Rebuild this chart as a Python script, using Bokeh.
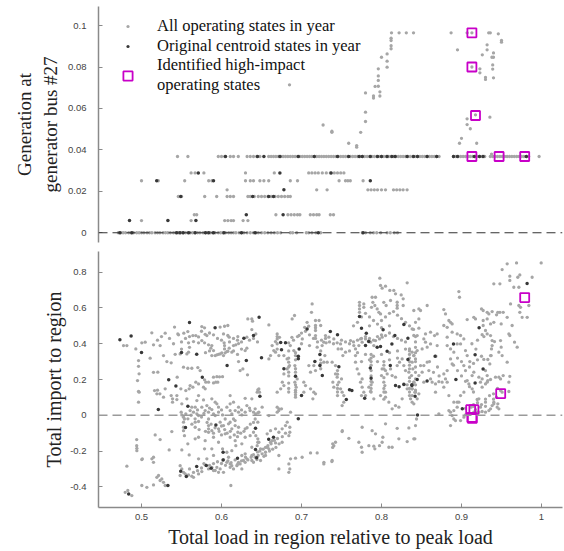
from bokeh.plotting import figure
from bokeh.layouts import column
from bokeh.models import (Span, Legend, LegendItem, FixedTicker, CustomJSTickFormatter)
from bokeh.embed import file_html
from bokeh.resources import INLINE

# ---------------- data: top panel (generation at bus #27) ----------------
top_lvl = [0.0, 0.0059, 0.0087, 0.0175, 0.0207, 0.0251, 0.0289, 0.0368]

top_all_x_0 = [0.471,0.474,0.477,0.480,0.484,0.487,0.490,0.494,0.497,0.500,0.503,0.507,0.510,0.513,
               0.517,0.520,0.523,0.527,0.530,0.533,0.536,0.540,0.543,0.546,0.549,0.552,0.555,0.558,
               0.561,0.564,0.567,0.570,0.573,0.577,0.580,0.583,0.586,0.589,0.592,0.596,0.599,0.602,
               0.605,0.609,0.612,0.615,0.618,0.622,0.625,0.628,0.632,0.636,0.640,0.643,0.646,0.650,
               0.654,0.658,0.662,0.666,0.670,0.674,0.686,0.689,0.694,0.706,0.709,0.713,0.718,0.724,
               0.776,0.780,0.786,0.790,0.794,0.799,0.807,0.811,0.816,0.820]
top_all_x_1 = [0.500,0.562,0.604,0.608,0.612,0.615,0.627,0.633]
top_all_x_2 = [0.566,0.569,0.668,0.683,0.687,0.691,0.695,0.698,0.711,0.715,0.719,0.722,0.736,0.740]
top_all_x_3 = [0.546,0.550,0.579,0.594,0.607,0.611,0.615,0.633,0.636,0.641,0.646,0.650,0.654,0.658,
               0.662,0.667,0.671,0.675,0.679,0.683,0.686]
top_all_x_4 = [0.607,0.719,0.732,0.783,0.787,0.791,0.795,0.800,0.805,0.815,0.819,0.823,0.827,0.832]
top_all_x_5 = [0.500,0.521,0.554,0.584,0.588,0.630,0.636,0.640,0.648,0.653,0.659,0.686,0.695,0.747,
               0.755,0.758,0.761,0.777]
top_all_x_6 = [0.562,0.567,0.578,0.630,0.666,0.709,0.713,0.717,0.721,0.726,0.731,0.736,0.741,0.745,
               0.749,0.753]
top_all_x_7 = [0.545,0.558,0.596,0.600,0.604,0.611,0.615,0.621,0.632,0.636,0.640,0.644,0.648,
               0.659,0.662,0.665,0.668,0.671,0.674,0.677,0.680,0.683,0.686,0.689,0.692,0.695,0.698,
               0.701,0.704,0.707,0.710,0.713,0.716,0.719,0.722,0.725,0.728,0.731,0.734,0.737,0.740,
               0.743,0.746,0.749,0.752,0.755,0.758,0.761,0.764,0.767,0.770,0.773,0.776,0.779,0.782,
               0.785,0.788,0.791,0.794,0.797,0.800,0.803,0.806,0.809,0.812,0.815,0.818,0.821,0.824,
               0.827,0.830,0.833,0.836,0.839,0.842,0.845,0.848,0.851,0.854,0.857,0.860,0.863,0.866,
               0.869,0.872,0.890,0.893,0.896,0.899,0.902,0.905,0.908,0.911,0.914,0.917,0.920,0.923,
               0.926,0.929,0.936,0.939,0.942,0.945,0.948,0.951,0.954,0.957,0.960,0.963,0.966,0.969,
               0.972,0.975,0.978,0.981,0.984,0.997]
top_all_x_rows = [top_all_x_0, top_all_x_1, top_all_x_2, top_all_x_3,
                  top_all_x_4, top_all_x_5, top_all_x_6, top_all_x_7]

# states off the fixed levels (rising parts)
top_all_free_x = [0.738,0.738,0.759,0.769,0.769,0.774,0.780,0.780,0.780,0.790,0.790,0.792,0.798,0.798,
                  0.796,0.796,0.796,0.796,0.800,0.807,0.807,0.807,0.812,0.812,0.812,0.812,0.8125,0.822,
                  0.831,0.840,0.727,0.685,
                  0.887,0.907,0.913,0.934,0.936,0.946,0.950,0.950,0.895,0.932,0.932,0.926,0.940,0.940,
                  0.938,0.939,0.939,0.913,0.923,0.923,0.930,0.930,0.940,0.9175,0.9355,0.907,0.907,
                  0.911,0.900,0.8975,0.919,0.9375]
top_all_free_y = [0.0485,0.049,0.0432,0.0421,0.0413,0.0485,0.0537,0.0582,0.0675,0.066,0.065,0.0706,
                  0.068,0.066,0.0735,0.0707,0.0791,0.0757,0.0847,0.0828,0.0799,0.0863,0.0903,0.0888,
                  0.0939,0.0928,0.0965,0.0965,0.0965,0.0965,0.052,0.0714,
                  0.0965,0.0965,0.0965,0.0965,0.0965,0.096,0.0928,0.092,0.0883,0.0907,0.0883,0.0859,
                  0.0868,0.0847,0.0847,0.081,0.079,0.080,0.0791,0.0772,0.075,0.074,0.0748,0.0569,
                  0.0558,0.055,0.0522,0.0502,0.0456,0.0432,0.0432,0.038]

top_cen_x_0 = [0.473,0.488,0.544,0.548,0.552,0.559,0.567,0.580,0.584,0.590,0.603,0.625,0.642,0.721,0.777]
top_cen_x_1 = [0.485,0.533,0.568]
top_cen_x_2 = [0.631,0.677]
top_cen_x_3 = [0.549,0.639,0.659,0.665]
top_cen_x_4 = [0.678]
top_cen_x_5 = [0.519,0.590,0.786]
top_cen_x_6 = [0.571,0.673,0.737]
top_cen_x_7 = [0.605,0.645,0.653,0.673,0.696,0.716,0.745,0.759,0.772,0.776,0.786,0.795,0.800,0.807,
               0.813,0.817,0.832,0.840,0.845,0.857,0.869,0.890,0.895,0.916,0.9225,0.927,0.981]
top_cen_x_rows = [top_cen_x_0, top_cen_x_1, top_cen_x_2, top_cen_x_3,
                  top_cen_x_4, top_cen_x_5, top_cen_x_6, top_cen_x_7]

top_hi_x = [0.913, 0.913, 0.9175, 0.913, 0.947, 0.979]
top_hi_y = [0.0965, 0.080, 0.0566, 0.0368, 0.0368, 0.0368]

# ---------------- data: bottom panel (total import to region) ----------------
bot_all_left = [
 (0.6329,0.539),(0.6379,0.539),(0.6388,0.526),(0.6379,0.479),(0.5413,0.493),(0.5754,0.496),(0.5788,0.489),
 (0.5983,0.493),(0.6038,0.498),(0.6079,0.502),(0.5129,0.461),(0.5296,0.459),(0.5454,0.455),(0.5463,0.45),
 (0.5529,0.459),(0.5579,0.468),(0.5642,0.446),(0.5679,0.446),(0.5713,0.438),(0.5796,0.453),(0.5817,0.446),
 (0.6025,0.455),(0.6079,0.446),(0.6096,0.437),(0.6204,0.44),(0.6317,0.437),(0.6429,0.455),(0.4775,0.39),
 (0.4817,0.39),(0.4929,0.371),(0.5004,0.405),(0.5046,0.409),(0.515,0.394),(0.5233,0.39),(0.5588,0.405),
 (0.565,0.412),(0.5713,0.405),(0.5754,0.418),(0.5788,0.405),(0.5838,0.394),(0.5879,0.39),(0.5867,0.375),
 (0.59,0.362),(0.6033,0.405),(0.6038,0.39),(0.6067,0.356),(0.6096,0.375),(0.6129,0.353),(0.615,0.39),
 (0.6179,0.394),(0.6213,0.401),(0.6296,0.362),(0.6317,0.375),(0.4963,0.306),(0.5108,0.319),(0.5275,0.334),
 (0.5317,0.3),(0.5371,0.293),(0.5421,0.341),(0.5483,0.343),(0.5567,0.343),(0.5588,0.353),(0.5879,0.334),
 (0.5921,0.334),(0.5942,0.338),(0.5963,0.341),(0.5983,0.343),(0.6004,0.349),(0.6046,0.349),(0.6079,0.358),
 (0.6025,0.334),(0.6038,0.371),(0.4963,0.274),(0.5525,0.269),(0.5579,0.263),(0.5629,0.263),(0.5704,0.267),
 (0.5733,0.25),(0.6233,0.25),(0.6267,0.259),(0.6325,0.226),(0.6213,0.3),(0.5204,0.241),(0.5446,0.213),
 (0.5788,0.198),(0.5804,0.185),(0.5838,0.185),(0.59,0.213),(0.5942,0.216),(0.5975,0.215),(0.6013,0.216),
 (0.59,0.181),(0.5929,0.185),(0.5954,0.185),(0.5713,0.175),(0.5679,0.185),(0.5596,0.148),(0.5554,0.138),
 (0.5608,0.166),(0.5775,0.157),(0.5796,0.148),(0.5642,0.157),(0.4963,0.134),(0.4963,0.073),(0.5163,0.138),
 (0.5192,0.12),(0.5275,0.101),(0.5296,0.148),(0.5371,0.11),(0.5388,0.092),(0.5388,0.073),(0.5442,0.11),
 (0.5442,0.088),(0.5492,0.148),(0.5567,0.092),(0.5629,0.045),(0.5692,0.082),(0.5775,0.086),(0.5921,0.073),
 (0.5942,0.064),(0.6108,0.064),(0.615,0.073),(0.6296,0.095),(0.6379,0.092),(0.6454,0.142),(0.6108,0.11),
 (0.5879,0.092),(0.5713,0.11),(0.5504,0.064),(0.497,0.232),(0.495,0.194),(0.497,0.129),(0.515,0.24),
 (0.52,0.14),(0.523,0.12),
 (0.5496,0.017),(0.5504,0.002),(0.5525,-0.011),(0.5537,-0.021),(0.5554,0.008),(0.5608,0.026),(0.565,0.017),
 (0.5692,0.008),(0.5713,-0.002),(0.5796,0.026),(0.5838,0.017),(0.5879,0.032),(0.59,0.008),(0.5921,-0.002),
 (0.5963,0.017),(0.6013,0.002),(0.6108,0.026),(0.6129,0.008),(0.6171,0.026),(0.6213,0.017),(0.6254,0.002),
 (0.6296,0.017),(0.6358,0.026),(0.64,0.017),(0.6454,0.013),(0.6421,0.036),(0.5671,0.045),(0.5754,0.045),
 (0.5817,0.054),(0.5963,0.045),(0.6067,0.045),(0.6213,0.045),(0.6317,0.054),(0.615,-0.021),(0.6046,-0.021),
 (0.5983,-0.039),(0.5838,-0.021),(0.5713,-0.035),(0.5671,-0.039),(0.6108,-0.039),
 (0.5525,-0.039),(0.5525,-0.067),(0.5525,-0.086),(0.5537,-0.114),(0.5671,-0.067),(0.5838,-0.058),
 (0.5838,-0.076),(0.5838,-0.095),(0.5879,-0.086),(0.5963,-0.076),(0.6025,-0.058),(0.6088,-0.048),
 (0.6129,-0.076),(0.6171,-0.058),(0.6204,-0.095),(0.6213,-0.067),(0.6296,-0.076),(0.6421,-0.021),
 (0.6454,-0.039),(0.64,-0.095),(0.6429,-0.114),(0.6454,-0.132),(0.5171,-0.11),(0.5233,-0.136),
 (0.5379,-0.091),(0.5504,-0.194),(0.5671,-0.132),(0.5713,-0.123),(0.5788,-0.188),(0.5879,-0.188),
 (0.5963,-0.151),(0.6013,-0.188),(0.6067,-0.207),(0.6129,-0.198),(0.6171,-0.142),(0.6179,-0.17),
 (0.6254,-0.16),(0.6379,-0.179),(0.6454,-0.151),(0.6358,-0.114),(0.6296,-0.123),(0.6108,-0.123),
 (0.6046,-0.104),(0.59,-0.123),(0.5796,-0.142),(0.4942,-0.185),(0.4942,-0.198),(0.5004,-0.248),
 (0.515,-0.235),(0.515,-0.263),(0.5346,-0.194),(0.5579,-0.16),(0.5596,-0.222),(0.5713,-0.244),
 (0.5817,-0.244),(0.59,-0.225),(0.6025,-0.248),(0.6088,-0.235),(0.6129,-0.282),(0.6213,-0.263),
 (0.6275,-0.253),(0.6317,-0.244),(0.6379,-0.225),(0.6421,-0.235),(0.6296,-0.216),(0.6254,-0.225),
 (0.4817,-0.285),(0.5483,-0.282),(0.5525,-0.319),(0.5546,-0.328),(0.5567,-0.337),(0.5588,-0.334),
 (0.5629,-0.341),(0.565,-0.347),(0.5796,-0.278),(0.5838,-0.3),(0.59,-0.309),(0.5942,-0.291),(0.5983,-0.3),
 (0.6025,-0.319),(0.6067,-0.263),(0.6108,-0.291),(0.615,-0.3),(0.6192,-0.282),(0.6233,-0.272),
 (0.6254,-0.3),(0.6296,-0.263),(0.6379,-0.253),(0.64,-0.263),(0.6442,-0.248),(0.5504,-0.3),(0.5483,-0.337),
 (0.5713,-0.328),(0.5754,-0.315),(0.5879,-0.291),(0.5921,-0.309),(0.5963,-0.319),(0.6108,-0.272),
 (0.5192,-0.347),(0.5233,-0.365),(0.5275,-0.375),(0.5296,-0.393),(0.5004,-0.393),(0.5067,-0.403),
 (0.515,-0.39),(0.4829,-0.421),(0.4796,-0.431),(0.4879,-0.449),(0.6117,-0.393),(0.5213,-0.337),
 (0.5254,-0.356),(0.494,-0.136),(0.494,-0.17),(0.501,-0.244),(0.513,-0.244),
]
bot_all_mid = [
 (0.7979,0.767),(0.7988,0.726),(0.8008,0.711),(0.805,0.722),(0.8321,0.741),(0.8104,0.698),(0.8154,0.698),
 (0.8175,0.679),(0.8246,0.673),(0.8196,0.632),(0.8196,0.614),(0.8196,0.599),(0.8271,0.651),(0.8271,0.614),
 (0.7883,0.66),(0.7925,0.66),(0.7892,0.632),(0.7917,0.614),(0.7875,0.604),(0.7946,0.595),(0.7967,0.576),
 (0.7988,0.567),(0.8029,0.632),(0.8058,0.614),(0.8113,0.642),(0.7725,0.632),(0.7725,0.614),(0.7779,0.623),
 (0.7779,0.604),(0.7725,0.595),(0.7725,0.576),(0.7133,0.623),(0.7125,0.576),(0.6913,0.558),(0.6883,0.539),
 (0.6592,0.505),(0.707,0.52),(0.709,0.498),(0.704,0.492),(0.7175,0.502),(0.7175,0.474),(0.7175,0.446),
 (0.722,0.53),(0.724,0.502),(0.697,0.446),(0.701,0.427),(0.688,0.436),(0.684,0.405),(0.686,0.39),
 (0.6696,0.455),(0.6696,0.427),(0.6675,0.412),(0.6725,0.436),(0.6633,0.39),(0.6654,0.362),(0.6613,0.334),
 (0.6592,0.315),(0.6675,0.353),(0.6717,0.334),(0.678,0.334),(0.682,0.315),(0.684,0.297),(0.685,0.278),
 (0.682,0.259),(0.684,0.241),(0.678,0.231),(0.676,0.185),(0.678,0.166),(0.674,0.148),(0.6696,0.129),
 (0.6717,0.036),(0.675,0.036),(0.6696,0.017),(0.6592,-0.002),(0.6446,0.129),(0.6467,0.147),(0.6475,0.129),
 (0.6904,0.362),(0.6925,0.334),(0.6917,0.278),(0.6925,0.241),(0.6946,0.203),(0.6917,0.185),(0.6933,0.157),
 (0.6925,0.129),(0.6925,0.101),(0.7029,0.185),(0.705,0.166),(0.7029,0.129),(0.7113,0.148),(0.7154,0.129),
 (0.7175,0.12),(0.7142,0.092),(0.7092,0.278),(0.7113,0.241),(0.7154,0.278),(0.7175,0.25),(0.7196,0.381),
 (0.7258,0.39),(0.7279,0.409),(0.7292,0.334),(0.7279,0.297),(0.7321,0.297),(0.7383,0.297),(0.7425,0.278),
 (0.7425,0.231),(0.7446,0.213),(0.7392,0.185),(0.7404,0.157),(0.7467,0.185),(0.75,0.203),(0.7488,0.148),
 (0.7508,0.129),(0.7529,0.11),(0.7529,0.073),(0.7508,0.054),(0.73,0.446),(0.7308,0.405),(0.7342,0.437),
 (0.7404,0.427),(0.7446,0.405),(0.7488,0.399),(0.7458,0.371),(0.75,0.371),(0.7517,0.334),(0.755,0.353),
 (0.7613,0.418),(0.7654,0.39),(0.7675,0.371),(0.7675,0.334),(0.7717,0.39),(0.7758,0.409),(0.7738,0.427),
 (0.78,0.427),(0.7842,0.418),(0.7863,0.409),(0.7904,0.39),(0.7925,0.418),(0.7975,0.427),(0.8008,0.437),
 (0.805,0.446),(0.7675,0.297),(0.7696,0.259),(0.7717,0.231),(0.7758,0.203),(0.7738,0.185),(0.7758,0.157),
 (0.7779,0.129),(0.775,0.11),(0.78,0.11),(0.7842,0.157),(0.7883,0.185),(0.7863,0.133),(0.7904,0.092),
 (0.8008,0.259),(0.805,0.25),(0.8071,0.231),(0.8,0.222),(0.8029,0.185),(0.8042,0.166),(0.805,0.129),
 (0.7988,0.11),(0.805,0.101),(0.8092,0.073),(0.8133,0.036),(0.8196,0.278),(0.8225,0.297),(0.8258,0.315),
 (0.8279,0.278),(0.83,0.25),(0.8342,0.241),(0.835,0.371),(0.8383,0.353),(0.8404,0.334),(0.8383,0.297),
 (0.8392,0.259),(0.8375,0.222),(0.8404,0.185),(0.8383,0.148),(0.8417,0.129),(0.8363,0.092),(0.8383,0.073),
 (0.8321,0.148),(0.8258,0.092),(0.8175,0.054),(0.8217,0.045),(0.8113,0.259),(0.8133,0.222),(0.8175,0.213),
 (0.8279,0.175),(0.8321,0.17),
 (0.7758,-0.067),(0.7508,-0.091),(0.7592,-0.129),(0.7717,-0.151),(0.775,-0.179),(0.7758,-0.207),
 (0.7842,-0.17),(0.7904,-0.173),(0.7917,-0.188),(0.7975,-0.17),(0.8008,-0.151),(0.8017,-0.123),
 (0.8092,-0.179),(0.8133,-0.179),(0.8217,-0.132),(0.8321,-0.147),(0.8417,-0.132),(0.8342,-0.071),
 (0.8196,-0.073),(0.805,-0.048),(0.7883,-0.086),(0.7925,-0.104),(0.7404,-0.17),(0.7425,-0.151),
 (0.7279,-0.272),(0.7383,-0.253),(0.7196,-0.211),(0.7113,-0.211),(0.7008,-0.235),(0.6925,-0.24),
 (0.6863,-0.244),(0.6842,-0.272),(0.6854,-0.3),(0.6842,-0.319),(0.6717,-0.3),(0.6717,-0.225),
 (0.6675,-0.155),(0.6592,-0.188),(0.655,-0.207),(0.6508,-0.216),(0.6488,-0.188),(0.6467,-0.151),
 (0.6446,-0.17),(0.6458,-0.225),(0.6488,-0.253),(0.655,-0.225),(0.6571,-0.179),(0.6613,-0.151),
 (0.6633,-0.142),(0.6571,-0.104),(0.6613,-0.086),(0.6675,-0.076),(0.6717,-0.095),(0.6758,-0.076),
 (0.68,-0.058),(0.6842,-0.114),(0.6854,-0.095),(0.6854,-0.067),(0.6821,-0.039),(0.6758,-0.151),
 (0.6717,0.026),(0.6863,0.017),(0.6696,0.045),(0.6508,0.045),(0.6467,0.017),(0.6425,0.008),
 (0.739,-0.16),(0.739,-0.18),(0.751,-0.086),(0.728,-0.263),(0.738,-0.259),
]
bot_all_right = [
 (0.9571,0.847),(0.9688,0.852),(0.9996,0.852),(0.9508,0.815),(0.9604,0.778),(0.9604,0.754),(0.9704,0.772),
 (0.9729,0.785),(0.9883,0.772),(0.948,0.735),(0.9404,0.735),(0.9654,0.716),(0.9717,0.716),(0.9842,0.614),
 (0.9738,0.604),(0.9717,0.614),(0.9729,0.576),(0.9613,0.623),(0.9758,0.548),(0.9821,0.548),(0.8967,0.692),
 (0.8975,0.66),(0.8571,0.614),(0.8467,0.595),(0.8404,0.586),(0.8779,0.591),(0.88,0.567),(0.8842,0.53),
 (0.8863,0.52),(0.8883,0.511),(0.9071,0.535),(0.9154,0.548),(0.9175,0.539),(0.925,0.595),(0.9271,0.586),
 (0.9321,0.576),(0.9342,0.567),(0.9383,0.58),(0.9438,0.562),(0.9454,0.576),(0.948,0.576),(0.9521,0.576),
 (0.9496,0.511),(0.9571,0.548),(0.9633,0.502),(0.9404,0.52),(0.9363,0.511),(0.9321,0.539),(0.9271,0.53),
 (0.9271,0.502),(0.93,0.474),(0.9321,0.455),(0.9258,0.451),(0.9363,0.446),(0.9383,0.418),(0.9383,0.39),
 (0.9375,0.371),(0.9371,0.334),(0.9354,0.287),(0.9413,0.412),(0.9488,0.418),(0.9496,0.381),(0.9467,0.353),
 (0.9508,0.334),(0.9592,0.455),(0.9604,0.446),(0.9663,0.409),(0.9696,0.381),(0.9571,0.297),(0.9363,0.334),
 (0.9329,0.312),(0.9279,0.312),(0.93,0.25),(0.9321,0.222),(0.9329,0.194),(0.9258,0.203),(0.9217,0.213),
 (0.9154,0.241),(0.9133,0.222),(0.9092,0.175),(0.9071,0.194),(0.9029,0.278),(0.9104,0.3),(0.9071,0.334),
 (0.905,0.362),(0.8988,0.399),(0.9029,0.427),(0.8946,0.399),(0.8988,0.446),(0.8946,0.455),(0.8883,0.465),
 (0.8821,0.492),(0.8779,0.502),(0.8821,0.437),(0.8821,0.39),(0.8863,0.371),(0.8904,0.353),(0.8863,0.315),
 (0.8883,0.287),(0.8821,0.25),(0.8779,0.231),(0.88,0.203),(0.8758,0.185),(0.8717,0.188),(0.8675,0.175),
 (0.8633,0.185),(0.8613,0.203),(0.8592,0.25),(0.8529,0.278),(0.8488,0.278),(0.8425,0.315),(0.8404,0.334),
 (0.8446,0.362),(0.8508,0.371),(0.8571,0.381),(0.8613,0.399),(0.855,0.409),(0.8529,0.427),(0.8446,0.446),
 (0.8404,0.446),(0.8467,0.487),(0.8383,0.483),(0.8425,0.52),(0.8467,0.539),(0.8488,0.586),(0.855,0.455),
 (0.8613,0.465),(0.8696,0.455),(0.8696,0.39),(0.8663,0.446),(0.8571,0.297),(0.8508,0.241),(0.8467,0.222),
 (0.8425,0.203),(0.8404,0.185),(0.8383,0.148),(0.8425,0.129),(0.8467,0.12),(0.8383,0.11),(0.8446,0.092),
 (0.8404,0.064),(0.8529,0.185),(0.8675,0.129),(0.8779,0.157),(0.8821,0.185),(0.8842,0.11),(0.8904,0.073),
 (0.8946,0.073),(0.8988,0.11),(0.903,0.129),(0.9133,0.148),(0.9237,0.185),(0.9258,0.157),(0.93,0.175),
 (0.9321,0.185),(0.9363,0.2),(0.9425,0.213),(0.9467,0.213),(0.9488,0.203),(0.9521,0.222),(0.9604,0.218),
 (0.9592,0.185),(0.9592,0.133),(0.9383,0.054),(0.9363,0.036),(0.9342,0.026),(0.93,0.017),(0.9258,0.021),
 (0.9217,0.017),(0.9175,0.032),(0.9238,0.045),(0.93,0.073),(0.9196,0.088),(0.9217,0.092),(0.8967,0.073),
 (0.8946,0.045),(0.8904,0.026),(0.8863,0.017),(0.8883,-0.002),(0.8904,-0.021),(0.8925,-0.03),(0.8988,-0.03),
 (0.903,-0.011),(0.905,0.002),(0.9092,0.008),(0.9154,0.017),(0.9404,0.073),(0.9446,0.045),(0.9467,0.036),
 (0.9438,0.101),(0.9508,0.129),(0.9488,0.138),(0.9404,0.064),(0.9454,0.064),(0.8842,0.026),(0.8717,0.008),
 (0.8438,-0.021),(0.8425,-0.058),(0.8404,-0.132),(0.8863,-0.058),(0.905,0.039),(0.9154,0.05),(0.9196,0.017),
 (0.93,0.05),
]
# further states in the densest parts of the cloud
bot_all_dense = [
 (0.6696,0.44),(0.6696,0.40),(0.6696,0.37),(0.684,0.36),(0.684,0.32),(0.684,0.27),(0.684,0.22),(0.684,0.18),
 (0.684,0.15),(0.684,0.13),(0.6925,0.35),(0.6925,0.31),(0.6925,0.26),(0.6925,0.22),(0.6925,0.17),
 (0.6925,0.14),(0.6925,0.115),(0.7175,0.53),(0.7175,0.49),(0.7175,0.43),(0.724,0.36),(0.724,0.31),
 (0.724,0.29),(0.724,0.26),(0.745,0.25),(0.745,0.23),(0.745,0.17),(0.745,0.15),(0.745,0.13),(0.745,0.11),
 (0.787,0.34),(0.787,0.32),(0.787,0.30),(0.787,0.28),(0.787,0.25),(0.787,0.22),(0.787,0.19),(0.787,0.17),
 (0.787,0.15),(0.787,0.13),(0.803,0.30),(0.803,0.28),(0.803,0.26),(0.803,0.21),(0.803,0.15),(0.803,0.13),
 (0.803,0.09),(0.835,0.36),(0.835,0.34),(0.835,0.32),(0.835,0.30),(0.835,0.28),(0.835,0.26),(0.835,0.21),
 (0.835,0.19),(0.835,0.15),(0.835,0.13),(0.835,0.11),(0.8425,0.44),(0.8425,0.41),(0.8425,0.38),
 (0.8425,0.35),(0.8425,0.30),(0.8425,0.27),(0.8425,0.24),(0.8425,0.17),(0.8425,0.14),
 (0.87,0.27),(0.865,0.24),(0.872,0.22),(0.86,0.30),(0.868,0.33),(0.905,0.25),(0.91,0.27),(0.915,0.29),
 (0.92,0.31),(0.925,0.33),(0.918,0.37),(0.913,0.40),(0.92,0.42),(0.928,0.44),(0.90,0.30),(0.895,0.32),
 (0.89,0.28),(0.895,0.25),(0.90,0.22),(0.905,0.19),(0.91,0.16),(0.915,0.13),(0.925,0.06),(0.93,0.09),
 (0.935,0.11),(0.94,0.12),(0.945,0.15),(0.92,0.07),(0.915,0.06),(0.912,0.045),(0.94,0.09),
 (0.56,-0.30),(0.565,-0.32),(0.57,-0.31),(0.575,-0.295),(0.578,-0.27),(0.585,-0.28),(0.59,-0.27),
 (0.595,-0.26),(0.60,-0.27),(0.605,-0.28),(0.608,-0.255),(0.612,-0.265),(0.617,-0.25),(0.62,-0.275),
 (0.625,-0.255),(0.63,-0.235),(0.633,-0.25),(0.637,-0.235),(0.64,-0.22),(0.645,-0.205),(0.648,-0.20),
 (0.652,-0.19),(0.655,-0.18),(0.658,-0.17),(0.662,-0.16),(0.666,-0.14),(0.67,-0.13),(0.653,-0.23),
 (0.66,-0.20),(0.664,-0.19),(0.668,-0.18),(0.672,-0.16),(0.676,-0.12),(0.68,-0.10),
 (0.558,-0.02),(0.562,0.0),(0.567,-0.02),(0.575,-0.01),(0.578,0.01),(0.582,-0.04),(0.587,-0.05),
 (0.592,-0.07),(0.597,-0.09),(0.60,-0.06),(0.604,-0.08),(0.607,-0.10),(0.611,-0.09),(0.616,-0.11),
 (0.62,-0.12),(0.624,-0.10),(0.628,-0.09),(0.632,-0.07),(0.636,-0.05),(0.64,-0.04),(0.57,0.03),
 (0.585,0.04),(0.60,0.03),(0.625,0.03),(0.635,0.04),(0.617,-0.03),(0.60,-0.11),(0.59,-0.10),(0.58,-0.09),
 (0.572,-0.08),(0.563,-0.05),
 (0.52,0.42),(0.525,0.44),(0.535,0.43),(0.54,0.40),(0.55,0.41),(0.555,0.43),(0.56,0.44),(0.575,0.47),
 (0.585,0.46),(0.59,0.45),(0.595,0.43),(0.60,0.42),(0.61,0.41),(0.615,0.43),(0.62,0.42),(0.625,0.41),
 (0.635,0.42),(0.64,0.43),(0.645,0.41),(0.625,0.37),(0.615,0.36),(0.62,0.34),(0.585,0.36),(0.58,0.35),
 (0.56,0.38),(0.55,0.37),
 (0.75,0.42),(0.755,0.41),(0.76,0.40),(0.765,0.41),(0.77,0.42),(0.775,0.43),(0.78,0.44),(0.785,0.43),
 (0.79,0.42),(0.795,0.44),(0.80,0.45),(0.81,0.46),(0.815,0.44),(0.82,0.43),(0.825,0.42),(0.83,0.41),
 (0.76,0.36),(0.77,0.35),(0.78,0.34),(0.79,0.33),(0.80,0.34),(0.81,0.35),(0.82,0.36),(0.83,0.37),
 (0.775,0.30),(0.785,0.31),(0.795,0.30),(0.81,0.31),(0.82,0.32),
 (0.765,0.50),(0.77,0.52),(0.775,0.55),(0.78,0.57),(0.785,0.55),(0.79,0.53),(0.795,0.51),(0.80,0.53),
 (0.805,0.55),(0.81,0.57),(0.815,0.58),(0.82,0.56),(0.825,0.54),(0.83,0.52),(0.835,0.50),(0.84,0.48),
 (0.785,0.50),(0.80,0.49),(0.81,0.50),
 (0.69,0.42),(0.695,0.44),(0.70,0.46),(0.705,0.47),(0.71,0.45),(0.715,0.43),(0.72,0.41),(0.725,0.42),
 (0.73,0.43),(0.735,0.41),(0.74,0.40),(0.70,0.40),(0.71,0.39),
]
bot_cen = [
 (0.473,0.422),(0.487,0.444),(0.5,0.351),(0.534,0.198),(0.543,0.164),(0.55,0.351),(0.56,0.519),(0.569,0.341),
 (0.576,0.213),(0.592,0.489),(0.607,0.278),(0.628,0.431),(0.64,0.446),(0.647,0.548),(0.631,0.306),(0.65,0.321),
 (0.648,0.106),(0.521,0.032),(0.558,0.05),(0.555,-0.069),(0.593,-0.054),(0.6425,-0.073),(0.602,-0.207),
 (0.602,-0.25),(0.62,-0.24),(0.6425,-0.192),(0.644,-0.238),(0.659,-0.134),(0.665,-0.123),(0.581,-0.281),
 (0.587,-0.296),(0.569,-0.287),(0.556,-0.343),(0.549,-0.313),(0.533,-0.393),(0.484,-0.44),(0.674,0.407),
 (0.675,0.366),(0.68,0.405),(0.678,0.26),(0.697,0.371),(0.696,0.33),(0.696,0.316),(0.6925,0.218),(0.70,0.11),
 (0.707,0.483),(0.7167,0.3),(0.723,0.34),(0.723,0.278),(0.726,0.222),(0.736,0.468),(0.745,0.451),(0.7467,0.272),
 (0.76,0.142),(0.763,0.138),(0.756,0.088),(0.7725,0.552),(0.775,0.487),(0.781,0.459),(0.78,0.39),(0.784,0.412),
 (0.786,0.265),(0.787,0.207),(0.779,0.095),(0.7946,0.381),(0.7988,0.384),(0.802,0.478),(0.807,0.358),
 (0.811,0.278),(0.813,0.399),(0.8167,0.446),(0.828,0.507),(0.833,0.431),(0.833,0.312),(0.822,0.16),
 (0.8175,0.166),(0.828,0.172),(0.838,0.17),(0.842,0.106),(0.696,-0.02),(0.982,0.737),(0.922,0.489),
 (0.89,0.399),(0.867,0.33),(0.917,0.339),(0.927,0.259),(0.893,0.2),(0.857,0.192),(0.8446,0.2),(0.917,0.181),
 (0.838,0.166),(0.901,0.036),(0.845,0.002),
]
bot_hi_x = [0.9115, 0.9155, 0.913, 0.9135, 0.949, 0.979]
bot_hi_y = [0.031, 0.031, -0.012, -0.017, 0.121, 0.658]

# tick values
x_ticks = [0.5, 0.6, 0.7, 0.8, 0.9, 1.0]
top_y_ticks = [0, 0.02, 0.04, 0.06, 0.08, 0.1]
bot_y_ticks = [-0.4, -0.2, 0, 0.2, 0.4, 0.6, 0.8]

# ---------------- build columns ----------------
tax, tay = [], []
for lv, xs in zip(top_lvl, top_all_x_rows):
    tax += xs
    tay += [lv] * len(xs)
tax += top_all_free_x
tay += top_all_free_y
tcx, tcy = [], []
for lv, xs in zip(top_lvl, top_cen_x_rows):
    tcx += xs
    tcy += [lv] * len(xs)

ball = bot_all_left + bot_all_mid + bot_all_right + bot_all_dense
bax = [p[0] for p in ball]
bay = [p[1] for p in ball]
bcx = [p[0] for p in bot_cen]
bcy = [p[1] for p in bot_cen]

GRAY = "#a6a6a6"
DARK = "#383838"
MAG = "#c800c8"
SERIF = "Liberation Serif"
SANS = "Liberation Sans"

fmt = CustomJSTickFormatter(code="return String(parseFloat(tick.toFixed(4)));")


def style_axis(ax, label_size="19px"):
    ax.axis_line_color = "#8a8a8a"
    ax.axis_line_width = 1.5
    ax.major_tick_line_color = "#8a8a8a"
    ax.major_tick_in = 4
    ax.major_tick_out = 0
    ax.minor_tick_line_color = None
    ax.major_label_text_font = SANS
    ax.major_label_text_font_size = "9.5px"
    ax.major_label_text_color = "#444444"
    ax.axis_label_text_font = SERIF
    ax.axis_label_text_font_style = "normal"
    ax.axis_label_text_font_size = label_size
    ax.axis_label_text_color = "#222222"
    ax.formatter = fmt


# ---------------- top figure ----------------
p1 = figure(width=564, height=246, output_backend="svg", toolbar_location=None,
            x_range=(0.44625, 1.02625), y_range=(-0.0047, 0.1092),
            min_border_left=98, min_border_right=2, min_border_top=6, min_border_bottom=4)
p1.outline_line_color = None
p1.grid.visible = False
p1.xaxis.visible = False
style_axis(p1.yaxis[0])
p1.yaxis.ticker = FixedTicker(ticks=top_y_ticks)
p1.yaxis.major_label_standoff = 12
p1.yaxis.axis_label = "Generation at\ngenerator bus #27"
p1.yaxis.axis_label_text_line_height = 1.25
p1.yaxis.axis_label_standoff = 4

p1.add_layout(Span(location=0, dimension="width", line_color="#333333",
                   line_width=1.2, line_dash="9 5"))
r_all = p1.scatter(tax, tay, size=3.3, color=GRAY, line_color=None)
r_cen = p1.scatter(tcx, tcy, size=3.5, color=DARK, line_color=None)
r_hi = p1.scatter(top_hi_x, top_hi_y, marker="square", size=9, fill_color=None,
                  line_color=MAG, line_width=1.8)


def style_legend(lg):
    lg.border_line_alpha = 0
    lg.background_fill_alpha = 0
    lg.margin = 0
    lg.padding = 10
    lg.spacing = 0
    lg.glyph_width = 39
    lg.label_standoff = 10
    lg.label_height = 20
    lg.label_text_font = SERIF
    lg.label_text_font_size = "16.5px"
    lg.label_text_line_height = 1.1
    lg.label_text_color = "#111111"


legend_a = Legend(items=[
    LegendItem(label="All operating states in year", renderers=[r_all]),
    LegendItem(label="Original centroid states in year", renderers=[r_cen]),
], location="top_left")
style_legend(legend_a)
legend_a.glyph_height = 8
p1.add_layout(legend_a)

legend_b = Legend(items=[
    LegendItem(label="Identified high-impact\noperating states", renderers=[r_hi]),
], location=(0, 137))
style_legend(legend_b)
legend_b.glyph_height = 23
p1.add_layout(legend_b)

# ---------------- bottom figure ----------------
p2 = figure(width=564, height=305, output_backend="svg", toolbar_location=None,
            x_range=(0.44625, 1.02625), y_range=(-0.516, 0.916),
            min_border_left=98, min_border_right=2, min_border_top=5, min_border_bottom=44)
p2.outline_line_color = None
p2.grid.visible = False
style_axis(p2.yaxis[0], "20px")
style_axis(p2.xaxis[0], "20px")
p2.yaxis.ticker = FixedTicker(ticks=bot_y_ticks)
p2.xaxis.ticker = FixedTicker(ticks=x_ticks)
p2.yaxis.major_label_standoff = 12
p2.xaxis.major_label_standoff = 6
p2.yaxis.axis_label = "Total import to region"
p2.yaxis.axis_label_standoff = 2
p2.xaxis.axis_label = "Total load in region relative to peak load"
p2.xaxis.axis_label_standoff = 3

p2.add_layout(Span(location=0, dimension="width", line_color="#9a9a9a",
                   line_width=1.5, line_dash="9 5"))
p2.scatter(bax, bay, size=3.3, color=GRAY, line_color=None)
p2.scatter(bcx, bcy, size=3.5, color=DARK, line_color=None)
p2.scatter(bot_hi_x, bot_hi_y, marker="square", size=9, fill_color=None,
           line_color=MAG, line_width=1.8)

layout = column(p1, p2, spacing=0)
open("out.html", "w").write(file_html(layout, INLINE))
